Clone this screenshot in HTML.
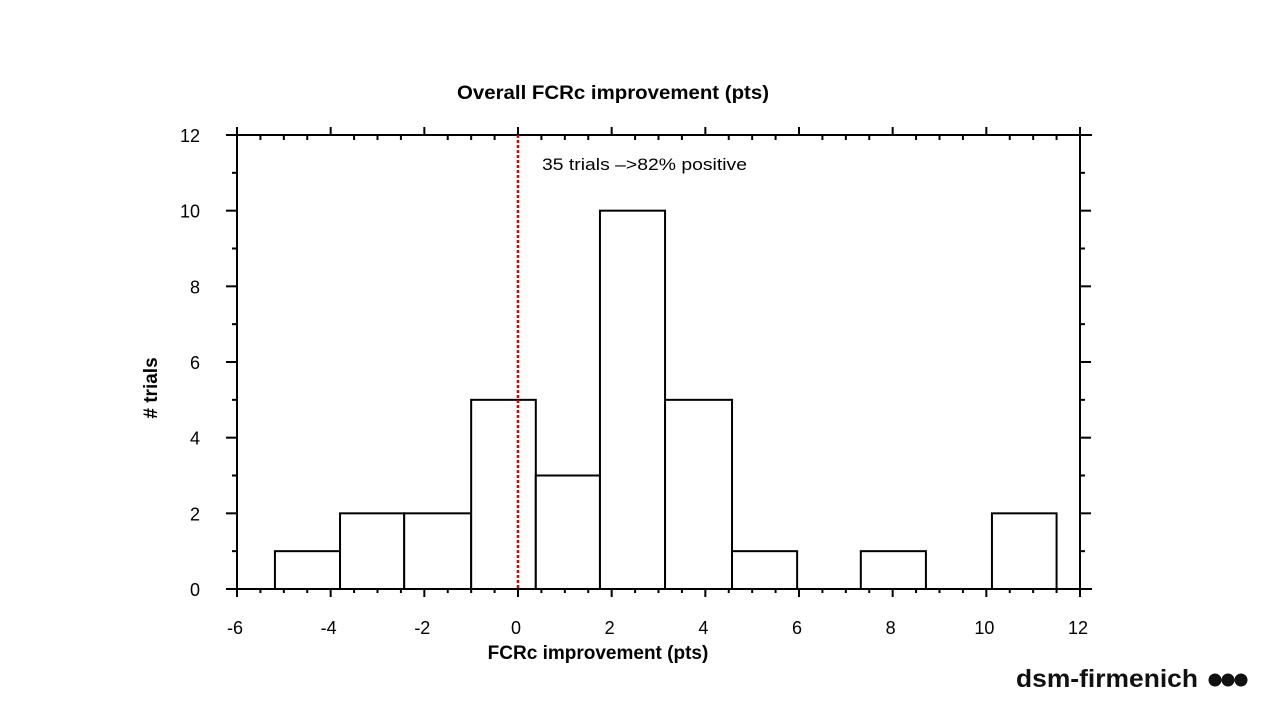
<!DOCTYPE html>
<html><head><meta charset="utf-8"><style>
body{margin:0;background:#fff;}
svg text{font-family:"Liberation Sans",sans-serif;}
</style></head><body>
<svg id="chart" width="1280" height="720" xmlns="http://www.w3.org/2000/svg">
<text x="613" y="99" text-anchor="middle" font-size="19" font-weight="bold" textLength="312" lengthAdjust="spacingAndGlyphs">Overall FCRc improvement (pts)</text>
<text x="542" y="170" font-size="17" textLength="205" lengthAdjust="spacingAndGlyphs">35 trials –&gt;82% positive</text>
<text x="598" y="659" text-anchor="middle" font-size="19" font-weight="bold">FCRc improvement (pts)</text>
<text transform="translate(157,388) rotate(-90)" text-anchor="middle" font-size="19" font-weight="bold"># trials</text>
<text x="1016" y="687" font-size="25" font-weight="bold" fill="#111" textLength="182" lengthAdjust="spacingAndGlyphs">dsm-firmenich</text>
<g fill="#111"><circle cx="1215" cy="680" r="6.5"/><circle cx="1228" cy="680" r="6.5"/><circle cx="1241" cy="680" r="6.5"/></g>
<g id="bars"></g><g id="axes"></g>
</svg>
<script>
const binEdges=[-5.19,-3.80,-2.43,-1.00,0.38,1.75,3.14,4.57,5.96,7.32,8.71,10.12,11.5];
const counts=[1,2,2,5,3,10,5,1,0,1,0,2];
const xTicks=[-6,-4,-2,0,2,4,6,8,10,12];
const yTicks=[0,2,4,6,8,10,12];
const X0=237,X1=1080,Y0=589,Y1=135;
const xs=v=>X0+(v+6)/18*(X1-X0);
const ys=v=>Y0-v/12*(Y0-Y1);
const NS="http://www.w3.org/2000/svg";
function mk(t,a,p){const e=document.createElementNS(NS,t);for(const k in a)e.setAttribute(k,a[k]);p.appendChild(e);return e;}
const bars=document.getElementById('bars'),axes=document.getElementById('axes');
counts.forEach((c,i)=>{if(c<=0)return;
const r=mk('rect',{x:xs(binEdges[i]),y:ys(c),width:xs(binEdges[i+1])-xs(binEdges[i]),height:ys(0)-ys(c),fill:'#fff',stroke:'#000','stroke-width':2},bars);

});
const ln=(x1,y1,x2,y2,w)=>mk('line',{x1,y1,x2,y2,stroke:'#000','stroke-width':w||2},axes);
ln(226,Y0,1092,Y0);ln(226,Y1,1092,Y1);ln(X0,Y1,X0,Y0);ln(X1,Y1,X1,Y0);
for(let v=-6;v<=12.001;v+=0.5){const x=xs(v),maj=Math.abs(v%2)<1e-6;
ln(x,Y0,x,Y0+(maj?8:4));
if(maj)ln(x,Y1,x,Y1-8);else ln(x,Y1,x,Y1+5);}
for(let v=0;v<=12;v++){const y=ys(v),maj=v%2==0;ln(X0,y,X0-(maj?11:5),y);ln(X1,y,X1+(maj?11:5),y);}
xTicks.forEach(v=>{const t=mk('text',{x:xs(v)-2,y:634,'text-anchor':'middle','font-size':18},axes);t.textContent=v;

});
yTicks.forEach(v=>{const t=mk('text',{x:200,y:ys(v)+7,'text-anchor':'end','font-size':18},axes);t.textContent=v;

});
const ref=mk('line',{x1:xs(0),y1:Y1,x2:xs(0),y2:Y0,stroke:'#d00','stroke-width':2.5,'stroke-dasharray':'3,2'},axes);


</script>
</body></html>
